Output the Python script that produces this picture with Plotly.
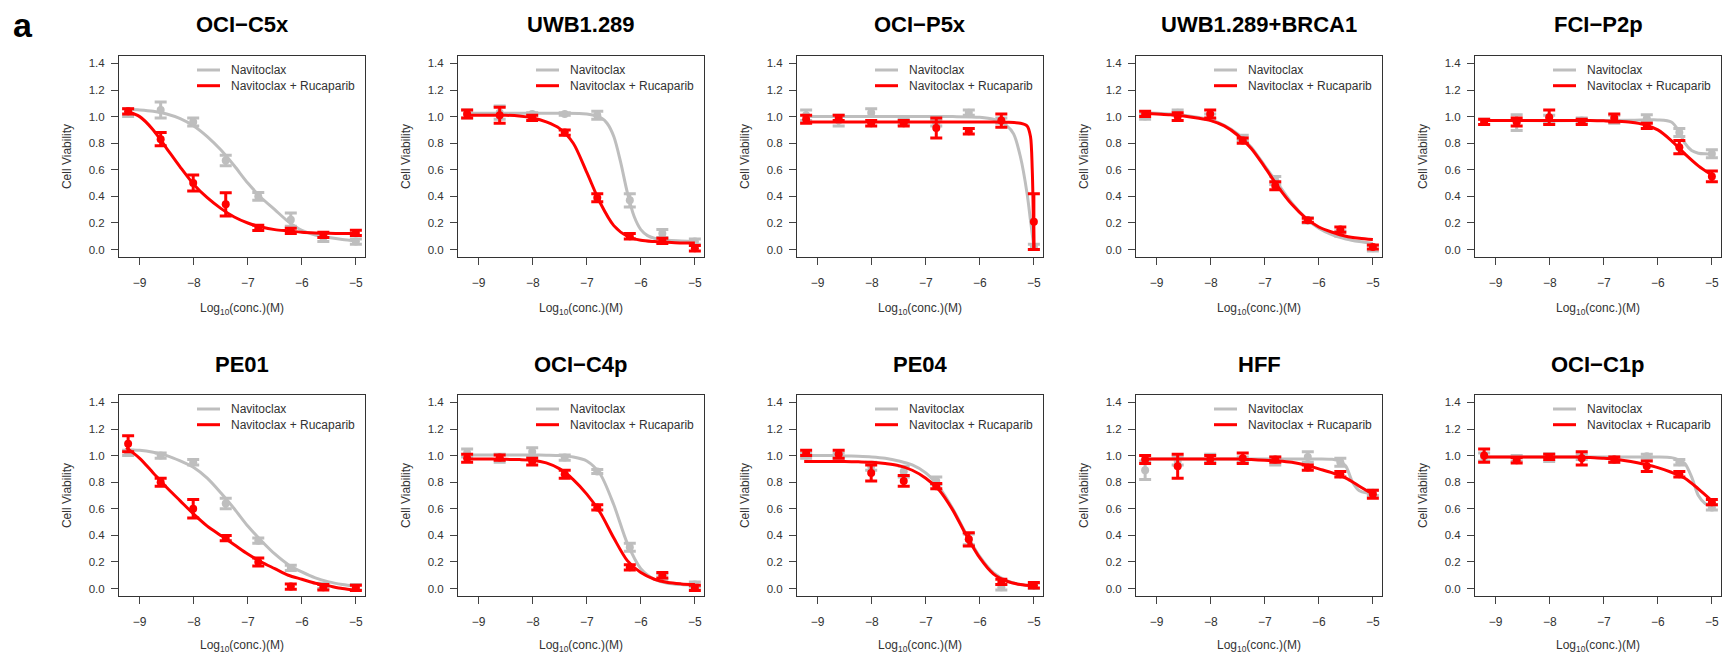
import plotly.graph_objects as go

W, H = 1722, 654

PANELS = ["OCI−C5x", "UWB1.289", "OCI−P5x", "UWB1.289+BRCA1", "FCI−P2p",
          "PE01", "OCI−C4p", "PE04", "HFF", "OCI−C1p"]
SERIES = ["Navitoclax", "Navitoclax + Rucaparib"]
X_TITLE = "Log<sub>10</sub>(conc.)(M)"
Y_TITLE = "Cell Viability"

# log10 molar doses (4-fold dilutions from 10 uM)
DOSES = [-9.214, -8.612, -8.010, -7.408, -6.806, -6.204, -5.602, -5.0]

XTICKS = [-9, -8, -7, -6, -5]
XTICKTEXT = ["−9", "−8", "−7", "−6", "−5"]
YTICKS = [0.0, 0.2, 0.4, 0.6, 0.8, 1.0, 1.2, 1.4]
YTICKTEXT = ["0.0", "0.2", "0.4", "0.6", "0.8", "1.0", "1.2", "1.4"]

# Navitoclax: mean viability and error per dose, one list per panel
NAV_MEAN = [
    [1.03, 1.05, 0.96, 0.67, 0.40, 0.225, 0.09, 0.06],
    [1.02, 1.03, 1.02, 1.02, 1.01, 0.37, 0.12, 0.06],
    [1.01, 0.97, 1.03, 0.96, 0.95, 1.03, 0.97, 0.02],
    [1.00, 1.03, 1.00, 0.84, 0.52, 0.22, 0.12, 0.01],
    [0.96, 0.955, 0.98, 0.97, 0.98, 0.985, 0.88, 0.72],
    [1.02, 1.00, 0.95, 0.64, 0.36, 0.155, 0.02, 0.01],
    [1.02, 0.98, 1.03, 0.985, 0.88, 0.31, 0.09, 0.03],
    [1.00, 1.00, 0.92, 0.88, 0.81, 0.37, 0.01, 0.02],
    [0.89, 0.96, 0.98, 0.97, 0.96, 0.99, 0.95, 0.72],
    [0.99, 0.98, 0.985, 0.99, 0.97, 0.995, 0.95, 0.61],
]
NAV_ERR = [
    [0.03, 0.06, 0.03, 0.04, 0.03, 0.05, 0.03, 0.02],
    [0.03, 0.05, 0.01, 0.01, 0.03, 0.05, 0.03, 0.02],
    [0.04, 0.04, 0.03, 0.02, 0.02, 0.02, 0.02, 0.02],
    [0.02, 0.02, 0.02, 0.02, 0.03, 0.02, 0.02, 0.02],
    [0.02, 0.06, 0.03, 0.02, 0.03, 0.03, 0.03, 0.03],
    [0.02, 0.02, 0.02, 0.04, 0.02, 0.02, 0.02, 0.02],
    [0.03, 0.03, 0.03, 0.02, 0.015, 0.03, 0.02, 0.02],
    [0.02, 0.02, 0.03, 0.04, 0.03, 0.04, 0.02, 0.02],
    [0.07, 0.03, 0.03, 0.02, 0.03, 0.04, 0.03, 0.02],
    [0.03, 0.02, 0.03, 0.02, 0.02, 0.015, 0.02, 0.02],
]

# Navitoclax + Rucaparib
COMBO_MEAN = [
    [1.04, 0.83, 0.50, 0.34, 0.163, 0.14, 0.11, 0.125],
    [1.02, 1.01, 0.99, 0.88, 0.39, 0.10, 0.065, 0.01],
    [0.98, 0.99, 0.95, 0.95, 0.915, 0.89, 0.97, 0.21],
    [1.02, 1.00, 1.02, 0.82, 0.48, 0.22, 0.15, 0.02],
    [0.96, 0.96, 0.995, 0.96, 0.99, 0.93, 0.77, 0.55],
    [1.09, 0.80, 0.60, 0.38, 0.20, 0.015, 0.01, 0.005],
    [0.98, 0.985, 0.955, 0.86, 0.61, 0.16, 0.10, 0.005],
    [1.02, 1.01, 0.87, 0.81, 0.77, 0.37, 0.05, 0.025],
    [0.97, 0.92, 0.97, 0.98, 0.97, 0.91, 0.86, 0.71],
    [1.00, 0.965, 0.99, 0.98, 0.97, 0.92, 0.86, 0.65],
]
COMBO_ERR = [
    [0.02, 0.05, 0.06, 0.088, 0.02, 0.02, 0.02, 0.02],
    [0.03, 0.06, 0.02, 0.02, 0.03, 0.02, 0.02, 0.02],
    [0.03, 0.02, 0.02, 0.02, 0.075, 0.02, 0.05, 0.21],
    [0.02, 0.03, 0.03, 0.02, 0.03, 0.015, 0.02, 0.015],
    [0.02, 0.03, 0.055, 0.02, 0.03, 0.02, 0.05, 0.04],
    [0.06, 0.03, 0.07, 0.02, 0.03, 0.02, 0.02, 0.02],
    [0.03, 0.02, 0.025, 0.03, 0.02, 0.02, 0.02, 0.02],
    [0.02, 0.03, 0.06, 0.04, 0.02, 0.05, 0.02, 0.02],
    [0.03, 0.09, 0.03, 0.04, 0.02, 0.02, 0.02, 0.03],
    [0.05, 0.02, 0.02, 0.05, 0.02, 0.04, 0.02, 0.02],
]

# fitted dose-response curves
GRID = [-9.25, -9.0, -8.75, -8.5, -8.25, -8.0, -7.75, -7.5, -7.25,
        -7.0, -6.75, -6.5, -6.25, -6.0, -5.75, -5.5, -5.25, -5.0]
UWB_NAV_X = [-9.25, -9.0, -8.5, -8.0, -7.5, -7.0, -6.75, -6.625, -6.5,
             -6.375, -6.25, -6.125, -6.0, -5.875, -5.75, -5.5, -5.25, -5.0]
P5X_NAV_X = [-9.25, -8.5, -7.5, -6.5, -6.0, -5.75, -5.5, -5.375, -5.25,
             -5.125, -5.0625, -5.0]
P5X_COMBO_X = [-9.25, -8.5, -7.5, -6.5, -5.75, -5.5, -5.25, -5.125,
               -5.0625, -5.03, -5.0]
TAIL_X = [-9.25, -8.5, -7.5, -6.5, -6.0, -5.75, -5.625, -5.5, -5.375,
          -5.25, -5.125, -5.0]

NAV_FIT_X = [GRID, UWB_NAV_X, P5X_NAV_X, GRID, TAIL_X,
             GRID, GRID, GRID, TAIL_X, TAIL_X]
NAV_FIT_Y = [
    [1.055, 1.05, 1.04, 1.02, 0.985, 0.93, 0.85, 0.75, 0.63, 0.50, 0.39, 0.30,
     0.21, 0.145, 0.11, 0.09, 0.075, 0.065],
    [1.025, 1.025, 1.025, 1.025, 1.025, 1.02, 0.995, 0.95, 0.85, 0.66, 0.43,
     0.25, 0.15, 0.105, 0.085, 0.07, 0.065, 0.06],
    [1.0, 1.0, 1.0, 1.0, 0.995, 0.98, 0.93, 0.87, 0.70, 0.42, 0.22, 0.02],
    [1.03, 1.025, 1.02, 1.01, 0.995, 0.975, 0.935, 0.87, 0.77, 0.63, 0.49,
     0.35, 0.24, 0.16, 0.11, 0.08, 0.06, 0.045],
    [0.97, 0.97, 0.97, 0.972, 0.975, 0.96, 0.90, 0.80, 0.745, 0.725, 0.72, 0.72],
    [1.045, 1.04, 1.025, 1.0, 0.96, 0.91, 0.83, 0.72, 0.60, 0.47, 0.36, 0.26,
     0.18, 0.125, 0.08, 0.05, 0.03, 0.015],
    [1.005, 1.005, 1.005, 1.005, 1.005, 1.005, 1.003, 1.0, 0.99, 0.96, 0.86,
     0.63, 0.34, 0.15, 0.07, 0.04, 0.03, 0.025],
    [1.0, 1.0, 1.0, 0.998, 0.995, 0.99, 0.98, 0.96, 0.93, 0.87, 0.76, 0.60,
     0.41, 0.24, 0.12, 0.06, 0.03, 0.02],
    [0.975, 0.975, 0.975, 0.975, 0.975, 0.972, 0.96, 0.92, 0.80, 0.735, 0.72, 0.72],
    [0.99, 0.99, 0.99, 0.99, 0.99, 0.985, 0.97, 0.94, 0.84, 0.70, 0.64, 0.62],
]

COMBO_FIT_X = [GRID, GRID, P5X_COMBO_X, GRID, GRID,
               GRID, GRID, GRID, GRID, GRID]
COMBO_FIT_Y = [
    [1.04, 1.00, 0.90, 0.76, 0.62, 0.49, 0.39, 0.31, 0.245, 0.20, 0.17, 0.15,
     0.14, 0.13, 0.125, 0.122, 0.12, 0.12],
    [1.01, 1.01, 1.01, 1.01, 1.005, 0.99, 0.96, 0.91, 0.80, 0.58, 0.35, 0.18,
     0.10, 0.07, 0.06, 0.055, 0.05, 0.05],
    [0.96, 0.96, 0.96, 0.96, 0.96, 0.958, 0.95, 0.93, 0.85, 0.60, 0.01],
    [1.025, 1.02, 1.015, 1.005, 0.99, 0.97, 0.93, 0.86, 0.76, 0.62, 0.47,
     0.34, 0.24, 0.17, 0.13, 0.10, 0.085, 0.075],
    [0.97, 0.97, 0.97, 0.97, 0.97, 0.97, 0.97, 0.97, 0.97, 0.968, 0.965,
     0.958, 0.94, 0.90, 0.82, 0.72, 0.63, 0.56],
    [1.06, 0.98, 0.87, 0.76, 0.66, 0.56, 0.47, 0.40, 0.33, 0.26, 0.20, 0.15,
     0.10, 0.07, 0.04, 0.02, 0.0, -0.015],
    [0.975, 0.975, 0.975, 0.972, 0.97, 0.965, 0.945, 0.90, 0.82, 0.71, 0.57,
     0.38, 0.21, 0.12, 0.07, 0.045, 0.035, 0.03],
    [0.955, 0.955, 0.955, 0.955, 0.953, 0.95, 0.94, 0.925, 0.89, 0.83, 0.74,
     0.59, 0.40, 0.23, 0.11, 0.055, 0.03, 0.02],
    [0.975, 0.975, 0.975, 0.975, 0.975, 0.975, 0.975, 0.975, 0.97, 0.965,
     0.96, 0.95, 0.93, 0.90, 0.87, 0.83, 0.77, 0.71],
    [0.99, 0.99, 0.99, 0.99, 0.99, 0.99, 0.99, 0.99, 0.985, 0.98, 0.97,
     0.955, 0.935, 0.91, 0.875, 0.83, 0.75, 0.66],
]

# ---------------- styling / layout ----------------
GRAY = "#BEBEBE"
RED = "#FF0000"
TXT = "#333333"
FONT = "Liberation Sans, Arial, sans-serif"
COL_LEFT = [119, 458, 797, 1136, 1475]
ROW_TOP = [56, 395]
BOX_W, BOX_H = 246, 201
XRANGE = [-9.383, -4.831]
YRANGE = [-0.056, 1.456]

fig = go.Figure()
layout = dict(
    width=W, height=H, margin=dict(l=0, r=0, t=0, b=0),
    paper_bgcolor="white", plot_bgcolor="white",
    showlegend=False, font=dict(family=FONT, color=TXT),
)
annotations = []
shapes = []

for i, name in enumerate(PANELS):
    n = i + 1
    sfx = "" if n == 1 else str(n)
    xa, ya = "x" + sfx, "y" + sfx
    r, c = divmod(i, 5)
    L, T = COL_LEFT[c], ROW_TOP[r]

    for fx, fy, mean, err, color in (
        (NAV_FIT_X[i], NAV_FIT_Y[i], NAV_MEAN[i], NAV_ERR[i], GRAY),
        (COMBO_FIT_X[i], COMBO_FIT_Y[i], COMBO_MEAN[i], COMBO_ERR[i], RED),
    ):
        fig.add_trace(go.Scatter(
            x=fx, y=fy, xaxis=xa, yaxis=ya, mode="lines",
            line=dict(color=color, width=3, shape="spline", smoothing=0.8),
            hoverinfo="skip", cliponaxis=True))
        fig.add_trace(go.Scatter(
            x=DOSES, y=mean, xaxis=xa, yaxis=ya, mode="markers",
            marker=dict(color=color, size=8),
            error_y=dict(type="data", array=err, color=color,
                         thickness=3, width=6),
            cliponaxis=False))

    layout["xaxis" + sfx] = dict(
        domain=[L / W, (L + BOX_W) / W], range=XRANGE, anchor=ya,
        tickmode="array", tickvals=XTICKS, ticktext=XTICKTEXT,
        ticks="outside", ticklen=7, tickwidth=1, tickcolor="#444",
        ticklabelstandoff=8,
        tickfont=dict(family=FONT, size=12, color=TXT),
        title=dict(text=X_TITLE, standoff=14,
                   font=dict(family=FONT, size=12, color=TXT)),
        automargin=False,
        showline=True, linecolor="#333", linewidth=1, mirror=True,
        showgrid=False, zeroline=False, fixedrange=True)
    layout["yaxis" + sfx] = dict(
        domain=[1 - (T + BOX_H) / H, 1 - T / H], range=YRANGE, anchor=xa,
        tickmode="array", tickvals=YTICKS, ticktext=YTICKTEXT,
        ticks="outside", ticklen=7, tickwidth=1, tickcolor="#444",
        ticklabelstandoff=4,
        tickfont=dict(family=FONT, size=11.5, color=TXT),
        title=dict(text=Y_TITLE, standoff=14,
                   font=dict(family=FONT, size=12, color=TXT)),
        automargin=False,
        showline=True, linecolor="#333", linewidth=1, mirror=True,
        showgrid=False, zeroline=False, fixedrange=True)

    dx, dy = xa + " domain", ya + " domain"
    # panel title
    annotations.append(dict(
        text="<b>" + name + "</b>", xref=dx, yref=dy, x=0.5, y=1 + 31 / BOX_H,
        xanchor="center", yanchor="middle", showarrow=False,
        font=dict(family=FONT, size=22, color="black")))
    # legend (inside, top right, no frame)
    for k, (lab, color) in enumerate(zip(SERIES, (GRAY, RED))):
        yy = 1 - (14 + 15.7 * k) / BOX_H
        shapes.append(dict(
            type="line", xref=dx, yref=dy, x0=78 / BOX_W, x1=101 / BOX_W,
            y0=yy, y1=yy, line=dict(color=color, width=3)))
        annotations.append(dict(
            text=lab, xref=dx, yref=dy, x=110 / BOX_W, y=yy,
            xanchor="left", yanchor="middle", showarrow=False,
            font=dict(family=FONT, size=12, color=TXT)))

annotations.append(dict(
    text="<b>a</b>", xref="paper", yref="paper", x=23 / W, y=1 - 25 / H,
    xanchor="center", yanchor="middle", showarrow=False,
    font=dict(family=FONT, size=34, color="black")))

layout["annotations"] = annotations
layout["shapes"] = shapes
fig.update_layout(**layout)
fig.write_html("out.html")
